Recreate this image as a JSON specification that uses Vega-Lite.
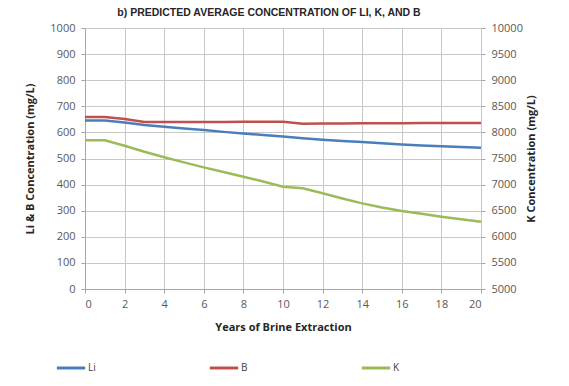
{
  "$schema": "https://vega.github.io/schema/vega-lite/v6.json",
  "width": 396,
  "height": 261,
  "autosize": {"type": "none"},
  "padding": {"left": 85, "top": 28, "right": 88, "bottom": 97},
  "background": "white",
  "title": {
    "text": "b) PREDICTED AVERAGE CONCENTRATION OF LI, K, AND B",
    "font": "Liberation Sans",
    "fontSize": 10.5,
    "fontWeight": "bold",
    "color": "#262626",
    "anchor": "middle",
    "dx": -14,
    "offset": 4
  },
  "data": {
    "values": [
      {"year": 0, "Li": 646, "B": 659, "K": 7850},
      {"year": 1, "Li": 646, "B": 659, "K": 7850},
      {"year": 2, "Li": 638, "B": 651, "K": 7745},
      {"year": 3, "Li": 628, "B": 640, "K": 7630},
      {"year": 4, "Li": 622, "B": 640, "K": 7525},
      {"year": 5, "Li": 615, "B": 640, "K": 7425},
      {"year": 6, "Li": 609, "B": 640, "K": 7330},
      {"year": 7, "Li": 602, "B": 640, "K": 7240},
      {"year": 8, "Li": 596, "B": 641, "K": 7150},
      {"year": 9, "Li": 590, "B": 641, "K": 7060},
      {"year": 10, "Li": 584, "B": 641, "K": 6960},
      {"year": 11, "Li": 578, "B": 633, "K": 6930},
      {"year": 12, "Li": 572, "B": 634, "K": 6835},
      {"year": 13, "Li": 567, "B": 634, "K": 6735},
      {"year": 14, "Li": 563, "B": 635, "K": 6640},
      {"year": 15, "Li": 558, "B": 635, "K": 6560},
      {"year": 16, "Li": 554, "B": 635, "K": 6495},
      {"year": 17, "Li": 550, "B": 636, "K": 6440},
      {"year": 18, "Li": 547, "B": 636, "K": 6385},
      {"year": 19, "Li": 544, "B": 636, "K": 6335},
      {"year": 20, "Li": 541, "B": 636, "K": 6290}
    ]
  },
  "encoding": {
    "x": {
      "field": "year",
      "type": "quantitative",
      "scale": {"domain": [0, 20], "nice": false},
      "axis": {
        "values": [0, 2, 4, 6, 8, 10, 12, 14, 16, 18, 20],
        "format": "d",
        "title": "Years  of Brine Extraction",
        "titleFont": "Open Sans",
        "titleFontSize": 11,
        "titleFontWeight": "bold",
        "titleColor": "#262626",
        "titlePadding": 12,
        "labelFont": "Open Sans",
        "labelFontSize": 11,
        "labelColor": "#595959",
        "labelPadding": 5,
        "gridColor": "#c8c8c8",
        "gridWidth": 1,
        "domainColor": "#a6a6a6",
        "tickColor": "#a6a6a6",
        "tickSize": 4
      }
    }
  },
  "layer": [
    {
      "transform": [{"fold": ["Li", "B"], "as": ["series", "value"]}],
      "mark": {"type": "line", "strokeWidth": 2.5},
      "encoding": {
        "y": {
          "field": "value",
          "type": "quantitative",
          "scale": {"domain": [0, 1000], "nice": false},
          "axis": {
            "orient": "left",
            "values": [0, 100, 200, 300, 400, 500, 600, 700, 800, 900, 1000],
            "format": "d",
            "title": "Li  & B Concentration (mg/L)",
            "titleFont": "Open Sans",
            "titleFontSize": 11,
            "titleFontWeight": "bold",
            "titleColor": "#262626",
            "titlePadding": 14,
            "labelFont": "Open Sans",
            "labelFontSize": 11,
            "labelColor": "#595959",
            "labelPadding": 6,
            "gridColor": "#c8c8c8",
            "domainColor": "#a6a6a6",
            "tickColor": "#a6a6a6",
            "tickSize": 4
          }
        },
        "color": {
          "field": "series",
          "type": "nominal",
          "scale": {"domain": ["Li", "B", "K"], "range": ["#4a7ebb", "#c0504d", "#9bbb59"]},
          "legend": {
            "title": null,
            "orient": "none",
            "direction": "horizontal",
            "legendX": -30,
            "legendY": 324,
            "symbolType": "stroke",
            "symbolSize": 800,
            "symbolStrokeWidth": 3,
            "labelFont": "Open Sans",
            "labelFontSize": 10,
            "labelColor": "#404040",
            "labelOffset": 1,
            "columnPadding": 107
          }
        }
      }
    },
    {
      "transform": [{"fold": ["K"], "as": ["series", "value"]}],
      "mark": {"type": "line", "strokeWidth": 2.5},
      "encoding": {
        "y": {
          "field": "value",
          "type": "quantitative",
          "scale": {"domain": [5000, 10000], "nice": false, "zero": false},
          "axis": {
            "orient": "right",
            "values": [5000, 5500, 6000, 6500, 7000, 7500, 8000, 8500, 9000, 9500, 10000],
            "format": "d",
            "title": "K Concentration (mg/L)",
            "titleAngle": 270,
            "titleFont": "Open Sans",
            "titleFontSize": 11,
            "titleFontWeight": "bold",
            "titleColor": "#262626",
            "titlePadding": 14,
            "labelFont": "Open Sans",
            "labelFontSize": 11,
            "labelColor": "#595959",
            "labelPadding": 6,
            "grid": false,
            "domain": false,
            "tickColor": "#a6a6a6",
            "tickSize": 4
          }
        },
        "color": {"field": "series", "type": "nominal"}
      }
    }
  ],
  "resolve": {"scale": {"y": "independent"}},
  "config": {"view": {"stroke": null}}
}
